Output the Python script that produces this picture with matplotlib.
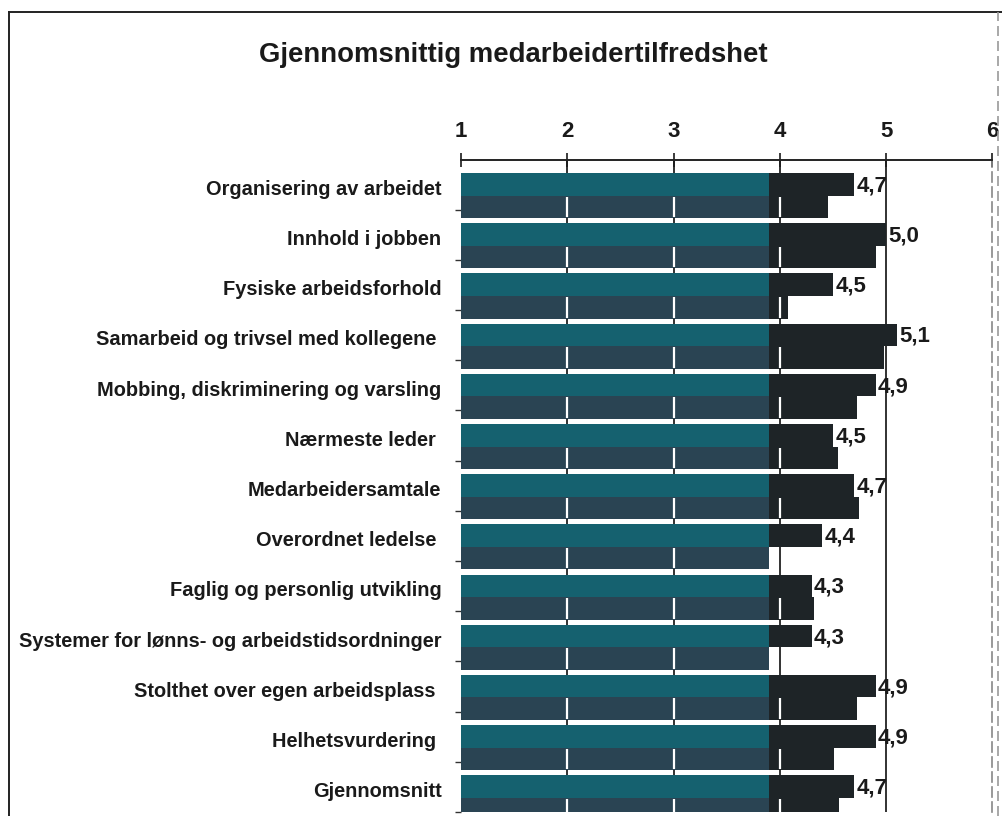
import matplotlib.pyplot as plt
from matplotlib.lines import Line2D
import numpy as np

plt.rcParams['font.family'] = ['Liberation Sans', 'DejaVu Sans']

categories = [
    'Organisering av arbeidet',
    'Innhold i jobben',
    'Fysiske arbeidsforhold',
    'Samarbeid og trivsel med kollegene ',
    'Mobbing, diskriminering og varsling',
    'Nærmeste leder ',
    'Medarbeidersamtale',
    'Overordnet ledelse ',
    'Faglig og personlig utvikling',
    'Systemer for lønns- og arbeidstidsordninger',
    'Stolthet over egen arbeidsplass ',
    'Helhetsvurdering ',
    'Gjennomsnitt',
]
top_values = [4.7, 5.0, 4.5, 5.1, 4.9, 4.5, 4.7, 4.4, 4.3, 4.3, 4.9, 4.9, 4.7]
bottom_values = [4.45, 4.9, 4.08, 4.98, 4.73, 4.55, 4.74, 3.9, 4.32, 3.9, 4.73, 4.51, 4.56]
x_ticks = [1, 2, 3, 4, 5, 6]

SPLIT = 3.9          # where the teal part of the bars ends
teal_top = '#15616f'
teal_bot = '#2a4453'
dark = '#1e2427'

fig = plt.figure(figsize=(10.02, 8.16), dpi=100)
ax = fig.add_axes([0.46, 0.005, 0.5305, 0.799])

y = np.arange(len(categories))
h = 0.45
top = np.array(top_values)
bot = np.array(bottom_values)

# dark gridlines behind bars
for g in [2, 3, 4, 5]:
    ax.axvline(g, color='#222222', lw=1.3, zorder=0)

ax.barh(y - h/2, np.minimum(top, SPLIT) - 1, left=1, height=h, color=teal_top, zorder=2)
ax.barh(y - h/2, np.maximum(top - SPLIT, 0), left=SPLIT, height=h, color=dark, zorder=2)
ax.barh(y + h/2, np.minimum(bot, SPLIT) - 1, left=1, height=h, color=teal_bot, zorder=2)
ax.barh(y + h/2, np.maximum(bot - SPLIT, 0), left=SPLIT, height=h, color=dark, zorder=2)

# white gridlines showing through the lower bars
for yy, v in zip(y + h/2, bot):
    for g in [2, 3, 4]:
        if v > g:
            ax.vlines(g, yy - h/2 + 0.02, yy + h/2 - 0.02, color='white', lw=1.6, zorder=3)

for yy, v in zip(y - h/2, top):
    ax.text(v + 0.02, yy + 0.03, f'{v:.1f}'.replace('.', ','), va='center', ha='left',
            fontsize=16, fontweight='bold', color='#1a1a1a', zorder=4)

ax.set_xlim(1, 6)
ax.set_ylim(12.26, -0.71)
ax.xaxis.tick_top()
ax.set_xticks(x_ticks)
ax.set_xticklabels([str(t) for t in x_ticks], fontsize=16, fontweight='bold')
ax.tick_params(axis='x', direction='inout', length=10, width=1.2, pad=8, colors='#1a1a1a')
ax.set_yticks(y - h/2 + 0.06)
ax.set_yticklabels(categories, fontsize=14.4, fontweight='bold', color='#1a1a1a')
ax.tick_params(axis='y', length=0, pad=14)
ax.set_yticks(y + 0.28, minor=True)
ax.tick_params(axis='y', which='minor', length=4, width=1, color='#333333')

ax.spines['left'].set_visible(False)
ax.spines['bottom'].set_visible(False)
ax.spines['top'].set_color('#222222')
ax.spines['top'].set_linewidth(1.4)
ax.spines['right'].set_color('#888888')
ax.spines['right'].set_linestyle((0, (6, 3)))
ax.spines['right'].set_linewidth(1.2)

fig.text(0.512, 0.932, 'Gjennomsnittig medarbeidertilfredshet', ha='center', va='center',
         fontsize=19.8, fontweight='bold', color='#1a1a1a')

# outer frame
fig.add_artist(Line2D([0.009, 0.009], [0, 0.985], color='#222222', lw=1.4))
fig.add_artist(Line2D([0.009, 1.0], [0.985, 0.985], color='#222222', lw=1.4))
fig.add_artist(Line2D([0.996, 0.996], [0, 0.985], color='#999999', lw=1.2, ls=(0, (6, 3))))

fig.savefig('out.png', dpi=100)
